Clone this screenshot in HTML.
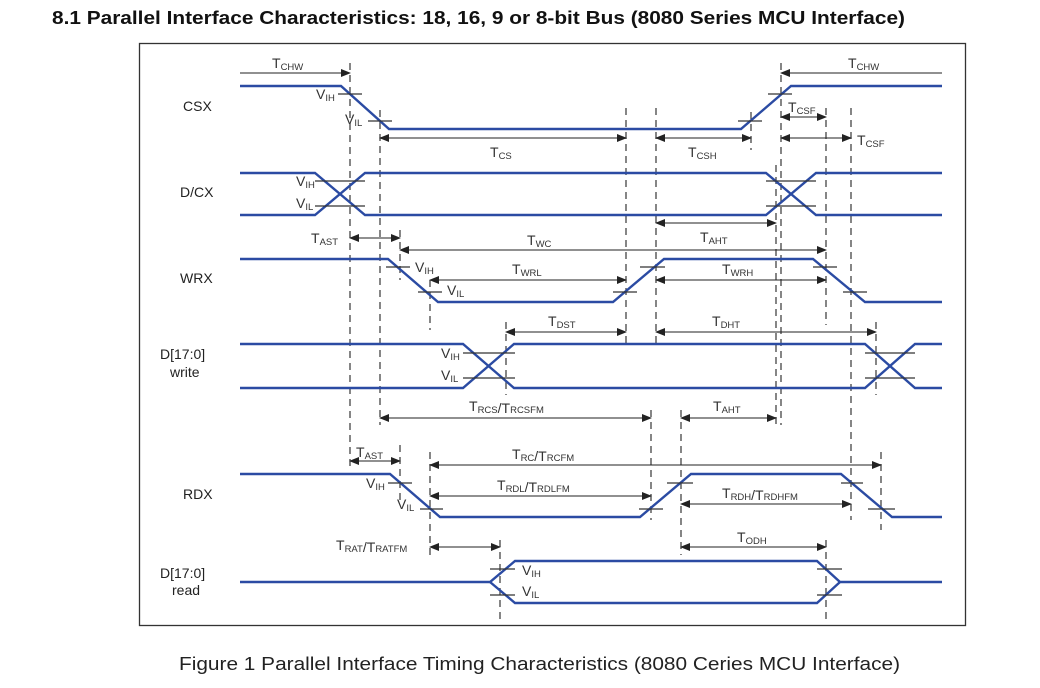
<!DOCTYPE html>
<html><head><meta charset="utf-8"><style>
html,body{margin:0;padding:0;background:#fff;}
svg{display:block;font-family:"Liberation Sans",Arial,sans-serif;}
.s{fill:none;stroke:#2b4ba3;stroke-width:2.4;}
.d{fill:none;stroke:#444;stroke-width:1.3;stroke-dasharray:7,5;}
.t{stroke:#333;stroke-width:1.2;}
.a{stroke:#222;stroke-width:1.1;marker-start:url(#ms);marker-end:url(#me);}
.r{stroke:#222;stroke-width:1.1;marker-end:url(#me);}
.l{stroke:#222;stroke-width:1.1;marker-start:url(#ms);}
.lb{font-size:14px;fill:#222;}
.tt{font-size:14px;fill:#333;}
.sb{font-size:9.5px;}
</style></head><body>
<svg width="1040" height="688" viewBox="0 0 1040 688">
<defs>
<marker id="me" markerWidth="10" markerHeight="8" refX="9" refY="4" orient="auto" markerUnits="userSpaceOnUse"><path d="M0,0 L10,4 L0,8 z" fill="#222"/></marker>
<marker id="ms" markerWidth="10" markerHeight="8" refX="1" refY="4" orient="auto" markerUnits="userSpaceOnUse"><path d="M10,0 L0,4 L10,8 z" fill="#222"/></marker>
</defs>
<text x="52" y="24" font-size="18.5" font-weight="bold" fill="#111" textLength="853" lengthAdjust="spacingAndGlyphs">8.1 Parallel Interface Characteristics: 18, 16, 9 or 8-bit Bus (8080 Series MCU Interface)</text>
<rect x="139.5" y="43.5" width="826" height="582" fill="none" stroke="#333" stroke-width="1.3"/>

<line class="d" x1="350" y1="63" x2="350" y2="470"/>
<line class="d" x1="380" y1="110" x2="380" y2="425"/>
<line class="d" x1="400" y1="230" x2="400" y2="280"/>
<line class="d" x1="430" y1="280" x2="430" y2="330"/>
<line class="d" x1="626" y1="108" x2="626" y2="345"/>
<line class="d" x1="656" y1="108" x2="656" y2="345"/>
<line class="d" x1="751" y1="112" x2="751" y2="150"/>
<line class="d" x1="781" y1="63" x2="781" y2="425"/>
<line class="d" x1="776" y1="165" x2="776" y2="425"/>
<line class="d" x1="826" y1="108" x2="826" y2="325"/>
<line class="d" x1="851" y1="108" x2="851" y2="520"/>
<line class="d" x1="506" y1="322" x2="506" y2="395"/>
<line class="d" x1="876" y1="322" x2="876" y2="395"/>
<line class="d" x1="651" y1="410" x2="651" y2="520"/>
<line class="d" x1="681" y1="410" x2="681" y2="555"/>
<line class="d" x1="400" y1="445" x2="400" y2="500"/>
<line class="d" x1="430" y1="452" x2="430" y2="560"/>
<line class="d" x1="881" y1="452" x2="881" y2="530"/>
<line class="d" x1="500" y1="540" x2="500" y2="620"/>
<line class="d" x1="826" y1="540" x2="826" y2="620"/>

<text class="lb" x="183" y="111">CSX</text>
<text class="lb" x="180" y="197">D/CX</text>
<text class="lb" x="180" y="283">WRX</text>
<text class="lb" x="160" y="359">D[17:0]</text>
<text class="lb" x="170" y="377">write</text>
<text class="lb" x="183" y="499">RDX</text>
<text class="lb" x="160" y="578">D[17:0]</text>
<text class="lb" x="172" y="595">read</text>

<polyline class="s" points="240,86 341,86 389,129 741,129 791,86 942,86"/>
<line class="t" x1="338" y1="94" x2="362" y2="94"/>
<line class="t" x1="368" y1="121" x2="392" y2="121"/>
<line class="t" x1="738" y1="121" x2="762" y2="121"/>
<line class="t" x1="768" y1="94" x2="792" y2="94"/>
<text class="tt" x="316" y="99">V<tspan class="sb" dy="2">IH</tspan></text>
<text class="tt" x="345" y="124">V<tspan class="sb" dy="2">IL</tspan></text>

<line class="r" x1="240" y1="73" x2="350" y2="73"/>
<text class="tt" x="272" y="68">T<tspan class="sb" dy="2">CHW</tspan></text>
<line class="l" x1="781" y1="73" x2="942" y2="73"/>
<text class="tt" x="848" y="68">T<tspan class="sb" dy="2">CHW</tspan></text>
<line class="a" x1="380" y1="138" x2="626" y2="138"/>
<text class="tt" x="490" y="157">T<tspan class="sb" dy="2">CS</tspan></text>
<line class="a" x1="656" y1="138" x2="751" y2="138"/>
<text class="tt" x="688" y="157">T<tspan class="sb" dy="2">CSH</tspan></text>
<line class="a" x1="781" y1="117" x2="826" y2="117"/>
<text class="tt" x="788" y="112">T<tspan class="sb" dy="2">CSF</tspan></text>
<line class="a" x1="781" y1="138" x2="851" y2="138"/>
<text class="tt" x="857" y="145">T<tspan class="sb" dy="2">CSF</tspan></text>

<polyline class="s" points="240,173 315,173 365,215 766,215 816,173 942,173"/>
<polyline class="s" points="240,215 315,215 365,173 766,173 816,215 942,215"/>
<line class="t" x1="315" y1="181" x2="365" y2="181"/><line class="t" x1="315" y1="206" x2="365" y2="206"/>
<line class="t" x1="766" y1="181" x2="816" y2="181"/><line class="t" x1="766" y1="206" x2="816" y2="206"/>
<text class="tt" x="296" y="186">V<tspan class="sb" dy="2">IH</tspan></text>
<text class="tt" x="296" y="208">V<tspan class="sb" dy="2">IL</tspan></text>

<line class="a" x1="350" y1="238" x2="400" y2="238"/>
<text class="tt" x="311" y="243">T<tspan class="sb" dy="2">AST</tspan></text>
<line class="a" x1="400" y1="250" x2="826" y2="250"/>
<text class="tt" x="527" y="245">T<tspan class="sb" dy="2">WC</tspan></text>
<line class="a" x1="656" y1="223" x2="776" y2="223"/>
<text class="tt" x="700" y="242">T<tspan class="sb" dy="2">AHT</tspan></text>

<polyline class="s" points="240,259 388,259 438,302 613,302 664,259 813,259 865,302 942,302"/>
<line class="t" x1="386" y1="267" x2="410" y2="267"/>
<line class="t" x1="418" y1="292" x2="442" y2="292"/>
<line class="t" x1="613" y1="292" x2="637" y2="292"/>
<line class="t" x1="640" y1="267" x2="665" y2="267"/>
<line class="t" x1="813" y1="267" x2="837" y2="267"/>
<line class="t" x1="843" y1="292" x2="867" y2="292"/>
<text class="tt" x="415" y="272">V<tspan class="sb" dy="2">IH</tspan></text>
<text class="tt" x="447" y="295">V<tspan class="sb" dy="2">IL</tspan></text>
<line class="a" x1="430" y1="280" x2="626" y2="280"/>
<text class="tt" x="512" y="274">T<tspan class="sb" dy="2">WRL</tspan></text>
<line class="a" x1="656" y1="280" x2="826" y2="280"/>
<text class="tt" x="722" y="274">T<tspan class="sb" dy="2">WRH</tspan></text>

<polyline class="s" points="240,344 463,344 514,388 865,388 915,344 942,344"/>
<polyline class="s" points="240,388 463,388 514,344 865,344 915,388 942,388"/>
<line class="t" x1="463" y1="353" x2="515" y2="353"/><line class="t" x1="463" y1="378" x2="515" y2="378"/>
<line class="t" x1="865" y1="353" x2="915" y2="353"/><line class="t" x1="865" y1="378" x2="915" y2="378"/>
<text class="tt" x="441" y="358">V<tspan class="sb" dy="2">IH</tspan></text>
<text class="tt" x="441" y="380">V<tspan class="sb" dy="2">IL</tspan></text>
<line class="a" x1="506" y1="332" x2="626" y2="332"/>
<text class="tt" x="548" y="326">T<tspan class="sb" dy="2">DST</tspan></text>
<line class="a" x1="656" y1="332" x2="876" y2="332"/>
<text class="tt" x="712" y="326">T<tspan class="sb" dy="2">DHT</tspan></text>

<line class="a" x1="380" y1="418" x2="651" y2="418"/>
<text class="tt" x="469" y="411">T<tspan class="sb" dy="2">RCS</tspan>/T<tspan class="sb" dy="0">RCSFM</tspan></text>
<line class="a" x1="681" y1="418" x2="776" y2="418"/>
<text class="tt" x="713" y="411">T<tspan class="sb" dy="2">AHT</tspan></text>

<line class="a" x1="350" y1="461" x2="400" y2="461"/>
<text class="tt" x="356" y="457">T<tspan class="sb" dy="2">AST</tspan></text>
<line class="a" x1="430" y1="465" x2="881" y2="465"/>
<text class="tt" x="512" y="459">T<tspan class="sb" dy="2">RC</tspan>/T<tspan class="sb" dy="0">RCFM</tspan></text>
<polyline class="s" points="240,474 390,474 440,517 640,517 691,474 841,474 892,517 942,517"/>
<line class="t" x1="388" y1="483" x2="412" y2="483"/>
<line class="t" x1="420" y1="509" x2="443" y2="509"/>
<line class="t" x1="639" y1="509" x2="663" y2="509"/>
<line class="t" x1="667" y1="483" x2="693" y2="483"/>
<line class="t" x1="841" y1="483" x2="863" y2="483"/>
<line class="t" x1="868" y1="509" x2="895" y2="509"/>
<text class="tt" x="366" y="488">V<tspan class="sb" dy="2">IH</tspan></text>
<text class="tt" x="397" y="509">V<tspan class="sb" dy="2">IL</tspan></text>
<line class="a" x1="430" y1="496" x2="651" y2="496"/>
<text class="tt" x="497" y="490">T<tspan class="sb" dy="2">RDL</tspan>/T<tspan class="sb" dy="0">RDLFM</tspan></text>
<line class="a" x1="681" y1="504" x2="851" y2="504"/>
<text class="tt" x="722" y="498">T<tspan class="sb" dy="2">RDH</tspan>/T<tspan class="sb" dy="0">RDHFM</tspan></text>

<line class="a" x1="430" y1="547" x2="500" y2="547"/>
<text class="tt" x="336" y="550">T<tspan class="sb" dy="2">RAT</tspan>/T<tspan class="sb" dy="0">RATFM</tspan></text>
<line class="a" x1="681" y1="547" x2="826" y2="547"/>
<text class="tt" x="737" y="542">T<tspan class="sb" dy="2">ODH</tspan></text>

<polyline class="s" points="240,582 490,582 515,561 817,561 840,582 942,582"/>
<polyline class="s" points="490,582 515,603 817,603 840,582"/>
<line class="t" x1="490" y1="569" x2="515" y2="569"/><line class="t" x1="490" y1="595" x2="515" y2="595"/>
<line class="t" x1="817" y1="569" x2="842" y2="569"/><line class="t" x1="817" y1="595" x2="842" y2="595"/>
<text class="tt" x="522" y="575">V<tspan class="sb" dy="2">IH</tspan></text>
<text class="tt" x="522" y="596">V<tspan class="sb" dy="2">IL</tspan></text>

<text x="179" y="670" font-size="18" fill="#222" textLength="721" lengthAdjust="spacingAndGlyphs">Figure 1 Parallel Interface Timing Characteristics (8080 Ceries MCU Interface)</text>
</svg>
</body></html>
